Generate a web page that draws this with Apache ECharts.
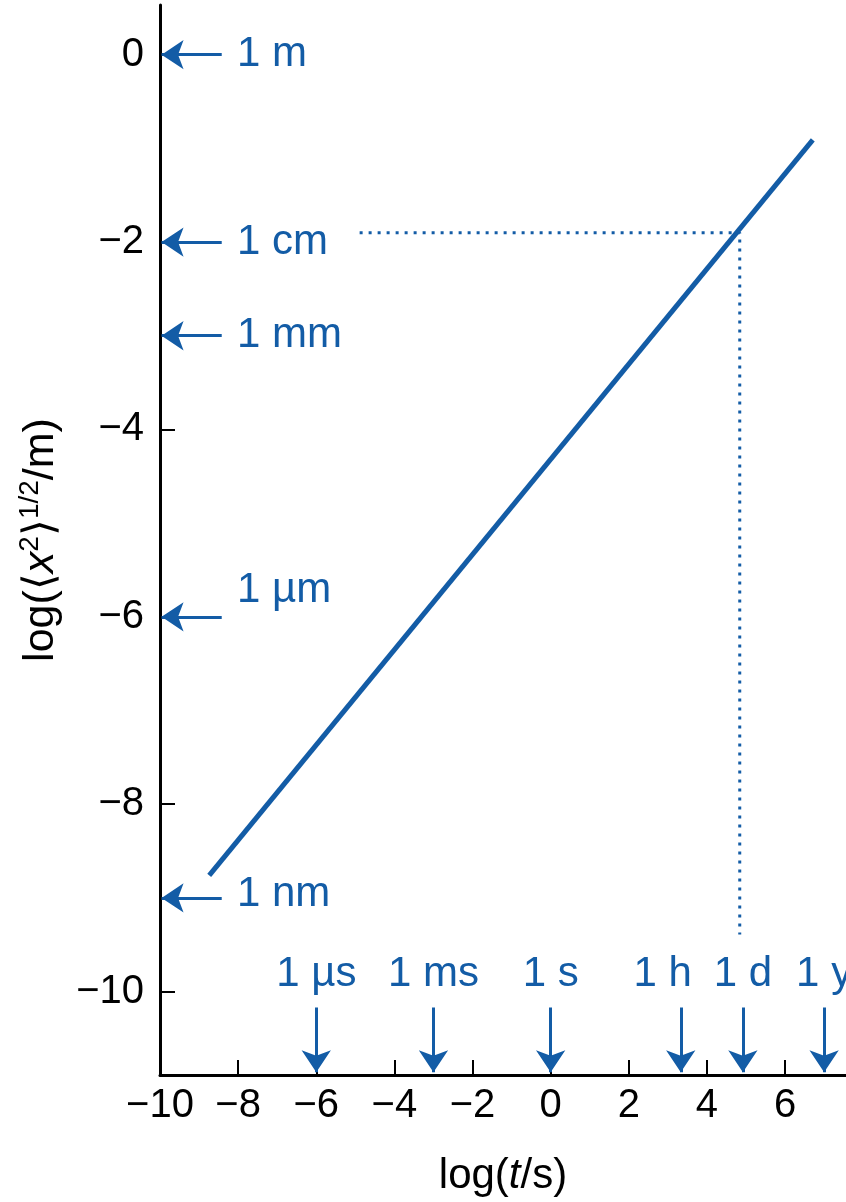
<!DOCTYPE html>
<html>
<head>
<meta charset="utf-8">
<script src="https://cdn.jsdelivr.net/npm/echarts@6/dist/echarts.min.js"></script>
<style>html,body{margin:0;padding:0;background:#fff}#c{width:846px;height:1202px}</style>
</head>
<body>
<div id="c"></div>
<script>
// ---- data ----
const xTicks = [-10, -8, -6, -4, -2, 0, 2, 4, 6];
const yTicks = [-10, -8, -6, -4, -2, 0];
// diffusion line: log(t/s) vs log(<x^2>^1/2 / m)
const diffusionLine = [[-8.74, -8.76], [6.71, -0.91]];
// dotted guide (1 cm reached after ~1 day)
const guideLine = [[-4.89, -1.9], [4.84, -1.9], [4.84, -9.39]];
// length marks on the y axis
const lengthValues = [0, -2, -3, -6, -9];
const lengthNames = ['1 m', '1 cm', '1 mm', '1 µm', '1 nm'];
// time marks on the x axis
const timeValues = [-6, -3, 0, 3.33, 4.92, 7.0];
const timeNames = ['1 µs', '1 ms', '1 s', '1 h', '1 d', '1 y'];

const BLUE = '#135ca6';
const FONT = "'Liberation Sans', Arial, Helvetica, sans-serif";
const fmt = v => String(v).replace('-', '\u2212');

const xMin = -10, xMax = 7.56, yMin = -10.89, yMax = 0.53;

const leftArrows = lengthValues.map(v => ({ coords: [[-8.42, v], [-9.96, v]] }));
const bottomArrows = timeValues.map(v => ({ coords: [[v, -10.17], [v, -10.86]] }));
const leftLabels = lengthValues.map((v, i) => ({
  value: [-8.03, v, lengthNames[i]],
  label: { offset: [0, lengthNames[i] === '1 µm' ? -26 : (lengthNames[i] === '1 nm' ? -3 : 0)] }
}));
const bottomLabels = timeValues.map((v, i) => ({
  value: [v, -9.82, timeNames[i]],
  label: { offset: [timeNames[i] === '1 h' ? -18 : 0, 0] }
}));

const labelStyle = {
  show: true, position: 'inside', verticalAlign: 'middle',
  fontSize: 42, color: BLUE, fontFamily: FONT, opacity: 1,
  formatter: p => p.value[2]
};

const chart = echarts.init(document.getElementById('c'), null, { renderer: 'canvas' });
chart.setOption({
  animation: false,
  backgroundColor: '#fff',
  textStyle: { fontFamily: FONT },
  grid: { left: 160, right: 0, top: 5, bottom: 120, containLabel: false },
  xAxis: {
    type: 'value', min: xMin, max: xMax,
    axisLine: { onZero: false, lineStyle: { color: '#000', width: 3 } },
    axisTick: { show: true, inside: true, length: 15, lineStyle: { color: '#000', width: 2 }, customValues: xTicks },
    axisLabel: { fontSize: 40, color: '#000', margin: 11, fontFamily: FONT, customValues: xTicks, formatter: fmt },
    splitLine: { show: false },
    name: '{n|log(}{i|t}{n|/s)}',
    nameLocation: 'middle', nameGap: 80,
    nameTextStyle: {
      rich: {
        n: { fontSize: 42, color: '#000', fontFamily: FONT },
        i: { fontSize: 42, color: '#000', fontFamily: FONT, fontStyle: 'italic' }
      }
    }
  },
  yAxis: {
    type: 'value', min: yMin, max: yMax,
    axisLine: { onZero: false, lineStyle: { color: '#000', width: 3 } },
    axisTick: { show: true, inside: true, length: 15, lineStyle: { color: '#000', width: 2 }, customValues: yTicks },
    axisLabel: { fontSize: 40, color: '#000', margin: 16, fontFamily: FONT, customValues: yTicks, formatter: fmt },
    splitLine: { show: false },
    name: '{n|log(\u27E8}{i|x}{s|2}{n|\u27E9}{s|1/2}{n|/m)}',
    nameLocation: 'middle', nameRotate: 90, nameGap: 94,
    nameTextStyle: {
      rich: {
        n: { fontSize: 43, color: '#000', fontFamily: FONT, lineHeight: 50 },
        i: { fontSize: 43, color: '#000', fontFamily: FONT, fontStyle: 'italic', lineHeight: 50 },
        s: { fontSize: 28, color: '#000', fontFamily: FONT, verticalAlign: 'top', lineHeight: 28 }
      }
    }
  },
  series: [
    {
      type: 'line', data: diffusionLine, symbol: 'none', silent: true,
      lineStyle: { color: BLUE, width: 5, cap: 'butt' }, z: 3
    },
    {
      type: 'line', data: guideLine, symbol: 'none', silent: true,
      lineStyle: { color: BLUE, width: 3, type: [3, 6] }, z: 2
    },
    {
      type: 'lines', coordinateSystem: 'cartesian2d', silent: true,
      data: leftArrows.concat(bottomArrows),
      symbol: ['none', 'arrow'], symbolSize: [15, 22],
      lineStyle: { color: BLUE, width: 3, opacity: 1 }, z: 4
    },
    {
      type: 'scatter', data: leftLabels, symbolSize: 0, silent: true,
      itemStyle: { opacity: 1 },
      label: Object.assign({}, labelStyle, { align: 'left' })
    },
    {
      type: 'scatter', data: bottomLabels, symbolSize: 0, silent: true,
      itemStyle: { opacity: 1 },
      label: Object.assign({}, labelStyle, { align: 'center' })
    }
  ]
});
</script>
</body>
</html>
